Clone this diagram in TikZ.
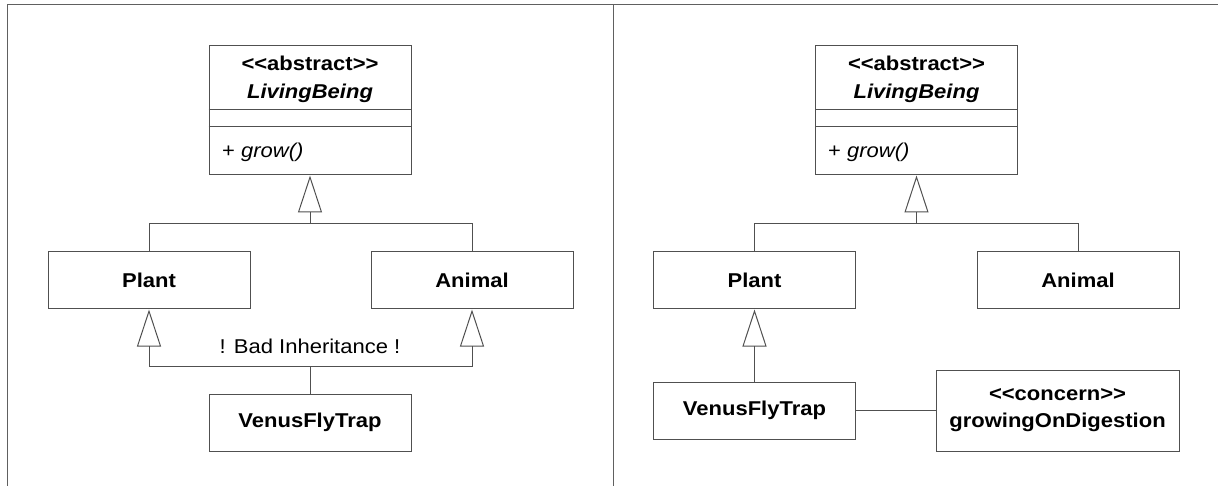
\documentclass[tikz,border=0pt]{standalone}
\usepackage{fontspec}
\setmainfont[FakeStretch=1.1]{Liberation Sans}
\usetikzlibrary{arrows.meta,calc}
\definecolor{ln}{HTML}{505050}
\definecolor{fr}{HTML}{606060}
\tikzset{
  box/.style={draw=ln, line width=1pt, rectangle, inner sep=0pt, font=\fontsize{20}{27}\selectfont\bfseries},
  cls/.style={draw=ln, line width=1pt, rectangle, inner sep=0pt, minimum width=202pt, minimum height=129pt},
  tx/.style={inner sep=0pt, anchor=base},
  conn/.style={draw=ln, line width=1pt},
  inh/.style={conn, -{Triangle[open, length=37pt, width=24pt]}},
}
\begin{document}
\begin{tikzpicture}[x=1pt, y=-1pt, every node/.style={font=\fontsize{20}{28}\selectfont}]
\useasboundingbox (0,0) rectangle (1218,486);
% frame
\draw[fr, line width=1pt] (7,486) -- (7,5) -- (1218,5);
\draw[fr, line width=1pt] (613,5) -- (613,486);

% ===== left panel =====
\node[cls] (lbL) at (310,110.5) {};
\draw[conn] ($(lbL.north west)+(0,64)$) -- ($(lbL.north east)+(0,64)$);
\draw[conn] ($(lbL.north west)+(0,81)$) -- ($(lbL.north east)+(0,81)$);
\node[tx, font=\fontsize{20}{28}\selectfont\bfseries] (lbLs) at (310,71) {<{}<abstract>{}>};
\node[tx, font=\fontsize{20}{28}\selectfont\bfseries\itshape] (lbLn) at (310,99) {LivingBeing};
\node[tx, anchor=base west] (lbLm) at (222,158) {+ \textit{grow()}};

\node[box, minimum width=202pt, minimum height=57pt] (plantL) at (149,280.5) {Plant};
\node[box, minimum width=202pt, minimum height=57pt] (animalL) at (472,280.5) {Animal};
\node[box, minimum width=202pt, minimum height=57pt] (vftL) at (310,422.5) {VenusFlyTrap};

\coordinate (jL1) at (310,224);
\coordinate (jL2) at (310,366);
\draw[conn] (plantL.north) |- (jL1);
\draw[conn] (animalL.north) |- (jL1);
\draw[inh] (jL1) -- (lbL.south);
\draw[conn] (vftL.north) -- (jL2);
\draw[inh] (jL2) -| (plantL.south);
\draw[inh] (jL2) -| (animalL.south);
\node[tx] (badL) at (310,353) {! Bad Inheritance !};

% ===== right panel =====
\node[cls] (lbR) at (916.5,110.5) {};
\draw[conn] ($(lbR.north west)+(0,64)$) -- ($(lbR.north east)+(0,64)$);
\draw[conn] ($(lbR.north west)+(0,81)$) -- ($(lbR.north east)+(0,81)$);
\node[tx, font=\fontsize{20}{28}\selectfont\bfseries] (lbRs) at (916.5,71) {<{}<abstract>{}>};
\node[tx, font=\fontsize{20}{28}\selectfont\bfseries\itshape] (lbRn) at (916.5,99) {LivingBeing};
\node[tx, anchor=base west] (lbRm) at (828,158) {+ \textit{grow()}};

\node[box, minimum width=202pt, minimum height=57pt] (plantR) at (754.5,280.5) {Plant};
\node[box, minimum width=202pt, minimum height=57pt] (animalR) at (1078,280.5) {Animal};
\node[box, minimum width=202pt, minimum height=57pt] (vftR) at (754.5,410.5) {VenusFlyTrap};
\node[box, minimum width=243pt, minimum height=81pt, align=center] (concR) at (1057.5,410.5) {<{}<concern>{}>\\growingOnDigestion};

\coordinate (jR1) at (916.5,224);
\draw[conn] (plantR.north) |- (jR1);
\draw[conn] (animalR.north) |- (jR1);
\draw[inh] (jR1) -- (lbR.south);
\draw[inh] (vftR.north) -- (plantR.south);
\draw[conn] (vftR.east) -- (concR.west);
\end{tikzpicture}
\end{document}
